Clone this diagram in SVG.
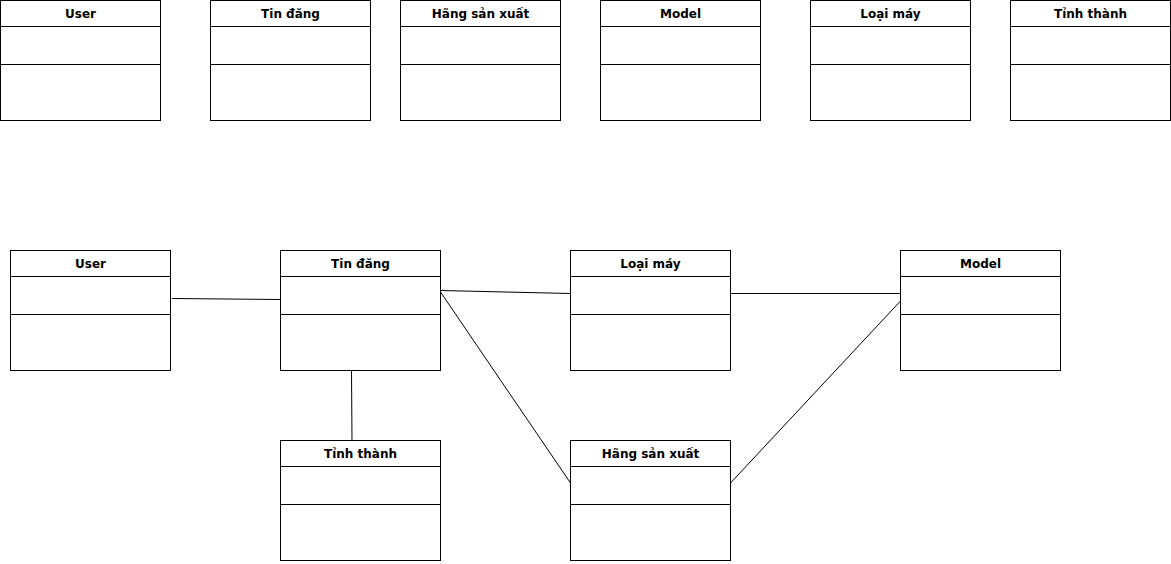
<svg xmlns="http://www.w3.org/2000/svg" width="1171" height="564" viewBox="0 0 1171 564">
  <defs>
    <style>
      .frame { fill: #fff; stroke: #000; stroke-width: 1; }
      .sep { stroke: #000; stroke-width: 1; }
      .box text { font-family: "DejaVu Sans", "Liberation Sans", sans-serif; font-size: 12px; font-weight: bold; text-anchor: middle; fill: #000; }
      .edges line { stroke: #000; stroke-width: 1; fill: none; }
    </style>
    <!-- UML class box: header 26px, attributes 38px, operations 56px -->
    <g id="cls">
      <rect class="frame" x="0.5" y="0.5" width="160" height="120" fill="#fff" stroke="#000"/>
      <line class="sep" x1="0.5" y1="26.5" x2="160.5" y2="26.5" stroke="#000"/>
      <line class="sep" x1="0.5" y1="64.5" x2="160.5" y2="64.5" stroke="#000"/>
    </g>
  </defs>
  <rect width="1171" height="564" fill="#fff"/>

  <!-- top row: entity list -->
  <g id="t-user" class="box" transform="translate(0,0)"><use href="#cls"/><text x="80.5" y="18">User</text></g>
  <g id="t-tindang" class="box" transform="translate(210,0)"><use href="#cls"/><text x="80.5" y="18">Tin đăng</text></g>
  <g id="t-hang" class="box" transform="translate(400,0)"><use href="#cls"/><text x="80.5" y="18">Hãng sản xuất</text></g>
  <g id="t-model" class="box" transform="translate(600,0)"><use href="#cls"/><text x="80.5" y="18">Model</text></g>
  <g id="t-loai" class="box" transform="translate(810,0)"><use href="#cls"/><text x="80.5" y="18">Loại máy</text></g>
  <g id="t-tinh" class="box" transform="translate(1010,0)"><use href="#cls"/><text x="80.5" y="18">Tỉnh thành</text></g>

  <!-- relationships -->
  <g id="edges" class="edges">
    <line x1="172" y1="298.5" x2="280.5" y2="299.5"/>
    <line x1="440.5" y1="290.5" x2="570.5" y2="293.5"/>
    <line x1="440.5" y1="292" x2="570.5" y2="483"/>
    <line x1="730.5" y1="293.5" x2="900.5" y2="293.5"/>
    <line x1="900.5" y1="301" x2="730.5" y2="483"/>
    <line x1="351.5" y1="370.5" x2="352" y2="440.5"/>
  </g>

  <!-- bottom: associated classes -->
  <g id="user" class="box" transform="translate(10,250)"><use href="#cls"/><text x="80.5" y="18">User</text></g>
  <g id="tindang" class="box" transform="translate(280,250)"><use href="#cls"/><text x="80.5" y="18">Tin đăng</text></g>
  <g id="loai" class="box" transform="translate(570,250)"><use href="#cls"/><text x="80.5" y="18">Loại máy</text></g>
  <g id="model" class="box" transform="translate(900,250)"><use href="#cls"/><text x="80.5" y="18">Model</text></g>
  <g id="tinh" class="box" transform="translate(280,440)"><use href="#cls"/><text x="80.5" y="18">Tỉnh thành</text></g>
  <g id="hang" class="box" transform="translate(570,440)"><use href="#cls"/><text x="80.5" y="18">Hãng sản xuất</text></g>
</svg>
